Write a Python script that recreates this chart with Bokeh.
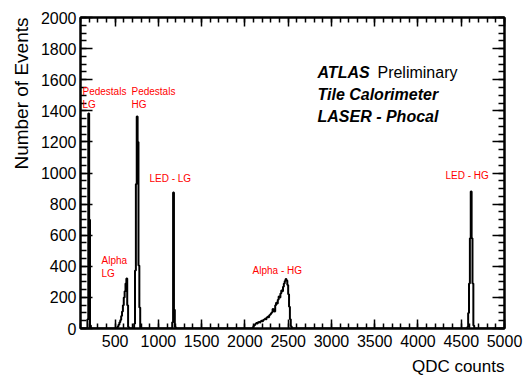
import numpy as np
from bokeh.plotting import figure
from bokeh.models import LinearAxis, SingleIntervalTicker, Label, Title, CustomJSTickFormatter
from bokeh.embed import file_html
from bokeh.resources import INLINE

# ---- data, histogram bins of width 10 QDC counts ----
bin_width = 10
ped_lg_bins = [180, 190, 200, 210]
ped_lg_counts = [60, 1383, 700, 20]

alpha_lg_bins = [520, 530, 540, 550, 560, 570, 580, 590, 600, 610, 620, 630, 640, 650]
alpha_lg_counts = [5, 15, 25, 40, 55, 80, 110, 150, 200, 240, 290, 322, 150, 10]

ped_hg_bins = [720, 730, 740, 750, 760, 770, 780, 790]
ped_hg_counts = [30, 373, 930, 1363, 1200, 405, 135, 5]

led_lg_bins = [1160, 1170, 1180, 1190]
led_lg_counts = [40, 875, 120, 10]

alpha_hg_bins = [2080, 2090, 2100, 2110, 2120, 2130, 2140, 2150, 2160, 2170,
                 2180, 2190, 2200, 2210, 2220, 2230, 2240, 2250, 2260, 2270,
                 2280, 2290, 2300, 2310, 2320, 2330, 2340, 2350, 2360, 2370,
                 2380, 2390, 2400, 2410, 2420, 2430, 2440, 2450, 2460, 2470,
                 2480, 2490, 2500, 2510, 2520, 2530, 2540]
alpha_hg_counts = [2, 8, 18, 22, 30, 36, 32, 40, 42, 38,
                   46, 50, 47, 55, 58, 62, 60, 70, 75, 72,
                   85, 90, 98, 105, 125, 118, 110, 150, 165, 160,
                   185, 205, 200, 225, 245, 240, 268, 290, 305, 318,
                   308, 280, 220, 140, 60, 15, 3]

led_hg_bins = [4570, 4580, 4590, 4600, 4610, 4620, 4630, 4640]
led_hg_counts = [10, 100, 290, 580, 881, 580, 290, 20]

x_ticks_interval = 500
y_ticks_interval = 200

# build full histogram
edges = np.arange(100, 5000 + bin_width, bin_width)
counts = np.zeros(len(edges))
for b, c in [(ped_lg_bins, ped_lg_counts), (alpha_lg_bins, alpha_lg_counts),
             (ped_hg_bins, ped_hg_counts), (led_lg_bins, led_lg_counts),
             (alpha_hg_bins, alpha_hg_counts), (led_hg_bins, led_hg_counts)]:
    for xb, cb in zip(b, c):
        counts[int((xb - 100) // bin_width)] = cb

FONT = "Liberation Sans"

p = figure(width=526, height=381, x_range=(100, 5000), y_range=(0, 2000),
           output_backend="svg", toolbar_location=None,
           min_border_left=80, min_border_right=22, min_border_top=17,
           min_border_bottom=53, x_axis_location=None, y_axis_location=None)
p.grid.visible = False
p.outline_line_color = "black"
p.outline_line_width = 2
p.background_fill_color = "white"
p.border_fill_color = "white"

def make_axis(ticker, show_labels, tin, tmin):
    ax = LinearAxis(ticker=ticker)
    ax.major_tick_in = tin
    ax.major_tick_out = 0
    ax.minor_tick_in = tmin
    ax.minor_tick_out = 0
    ax.axis_line_width = 2
    ax.major_tick_line_width = 1.5
    ax.minor_tick_line_width = 1.5
    ax.major_label_text_font = FONT
    ax.major_label_text_color = "black"
    ax.major_label_text_font_size = "16px"
    if not show_labels:
        ax.formatter = CustomJSTickFormatter(code="return ''")
        ax.major_label_standoff = 0
    return ax

xt = SingleIntervalTicker(interval=x_ticks_interval, num_minor_ticks=5)
yt = SingleIntervalTicker(interval=y_ticks_interval, num_minor_ticks=4)

bottom = make_axis(xt, True, 9, 5)
bottom.major_label_standoff = 6
left = make_axis(yt, True, 12, 6)
left.major_label_standoff = 4
top = make_axis(xt, False, 9, 5)
right = make_axis(yt, False, 12, 6)
p.add_layout(bottom, "below")
p.add_layout(left, "left")
p.add_layout(top, "above")
p.add_layout(right, "right")

p.add_layout(Title(text="Number of Events", align="right", text_font=FONT,
                   text_font_size="19px", text_font_style="normal",
                   text_color="black", standoff=12), "left")
p.add_layout(Title(text="QDC counts", align="right", text_font=FONT,
                   text_font_size="17px", text_font_style="normal",
                   text_color="black", standoff=11), "below")

p.step(edges, counts, mode="after", line_color="black", line_width=2)

# red annotations
red_labels = [
    (123, 1524, "Pedestals"), (123, 1440, "LG"),
    (689, 1524, "Pedestals"), (689, 1440, "HG"),
    (897, 965, "LED - LG"),
    (343, 437, "Alpha"), (343, 354, "LG"),
    (2088, 373, "Alpha - HG"),
    (4318, 984, "LED - HG"),
]
for x, y, t in red_labels:
    p.add_layout(Label(x=x, y=y, text=t, text_align="left", text_baseline="middle",
                       text_font=FONT, text_font_size="10px", text_color="red"))

# ATLAS block
p.add_layout(Label(x=2839, y=1646, text="ATLAS", text_align="left", text_baseline="middle",
                   text_font=FONT, text_font_size="16px", text_font_style="bold italic",
                   text_color="black"))
p.add_layout(Label(x=3532, y=1646, text="Preliminary", text_align="left", text_baseline="middle",
                   text_font=FONT, text_font_size="16px", text_color="black"))
p.add_layout(Label(x=2839, y=1505, text="Tile Calorimeter", text_align="left", text_baseline="middle",
                   text_font=FONT, text_font_size="16px", text_font_style="bold italic",
                   text_color="black"))
p.add_layout(Label(x=2839, y=1363, text="LASER - Phocal", text_align="left", text_baseline="middle",
                   text_font=FONT, text_font_size="16px", text_font_style="bold italic",
                   text_color="black"))

open("out.html", "w").write(file_html(p, INLINE))
